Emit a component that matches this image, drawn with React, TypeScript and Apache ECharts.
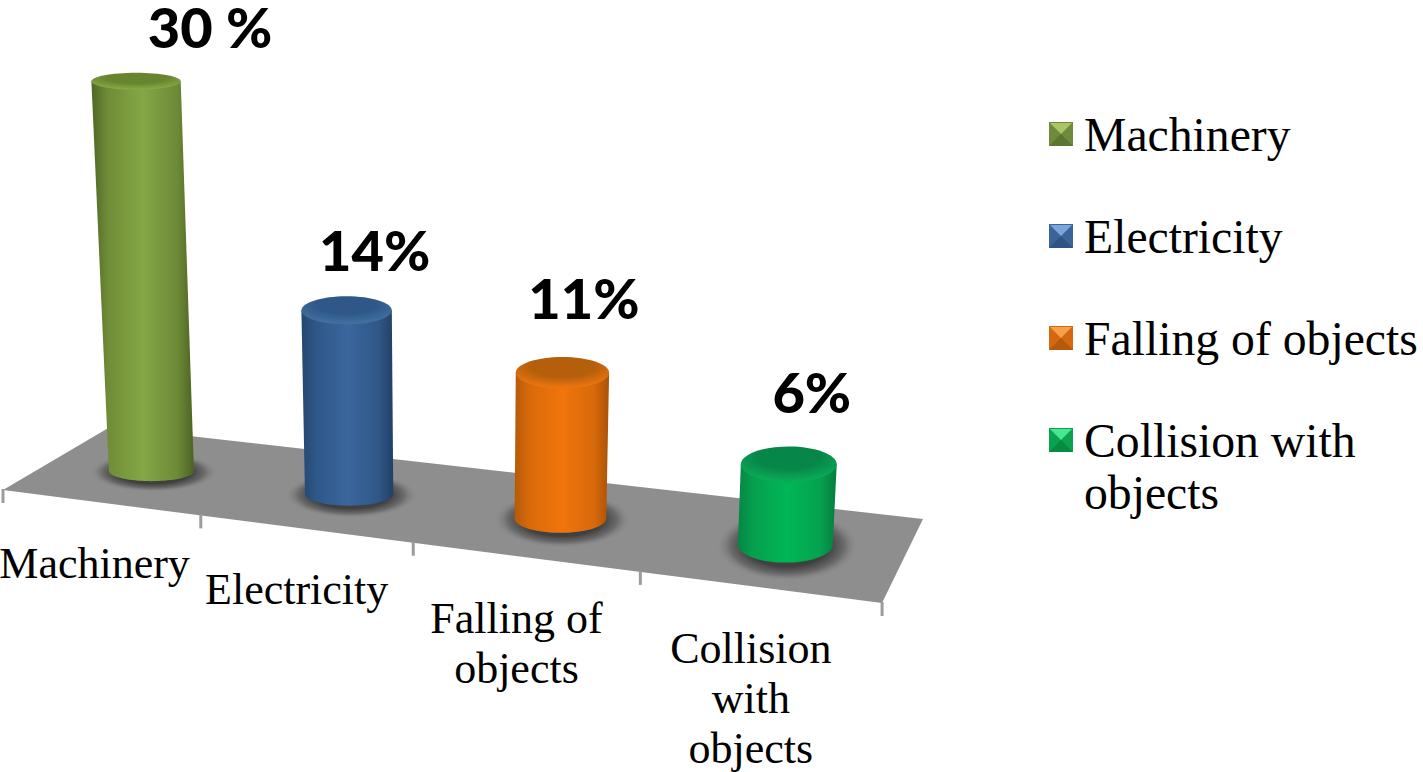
import React, { useEffect, useRef } from "react";
import * as echarts from "echarts";

const categories = ["Machinery", "Electricity", "Falling of objects", "Collision with objects"];
const values = [30, 14, 11, 6];
const valueLabels = ["30 %", "14%", "11%", "6%"];
const axisLabels = ["Machinery", "Electricity", "Falling of\nobjects", "Collision\nwith\nobjects"];
const legendLabels: Record<string, string> = { "Collision with objects": "\nCollision with\nobjects" };

const sideStops = [
  ["#4f6725", "#6f8c37", "#85a745", "#6d8a37", "#4c6223"],
  ["#234870", "#2f5788", "#3b669d", "#2f5788", "#223f66"],
  ["#b55a08", "#d96a0b", "#f0750b", "#d9690b", "#a95207"],
  ["#078544", "#05a04e", "#00b756", "#05a04e", "#067c3f"],
];
const topStops = [
  ["#67842f", "#86a846"],
  ["#2f5889", "#41709f"],
  ["#b55e0c", "#e8750f"],
  ["#07864a", "#0aab58"],
];
const iconColors = ["#6e8a3b", "#3b6598", "#d2680f", "#0ba24f"];
const iconLight = ["#a9c566", "#7aa6dc", "#f6a04a", "#45e890"];
const iconDark = ["#5c7530", "#2f5482", "#b5590b", "#078a42"];

const labelOffsets = [[74, -55], [28, -61], [21.5, -75], [23, -73]];

const FL = [3, 490], FR = [882, 603], BR = [923, 519], BL = [110, 427];
const GRID = { left: 3, width: 879, top: 0, height: 520 };
const FONT_SERIF = '"Liberation Serif", "Times New Roman", serif';

const warp = (u: number) => 0.2167 * u + 0.00833 * u * u;
const floorPoint = (u: number, v: number) => {
  const t = warp(u);
  const fx = FL[0] + (FR[0] - FL[0]) * t, fy = FL[1] + (FR[1] - FL[1]) * t;
  const bx = BL[0] + (BR[0] - BL[0]) * t, by = BL[1] + (BR[1] - BL[1]) * t;
  return [fx + (bx - fx) * v, fy + (by - fy) * v];
};
const VP_X = 455, VP_D = 7700;
const grad = (stops: string[]) =>
  new echarts.graphic.LinearGradient(0, 0, 1, 0, stops.map((color, i) => ({ offset: [0, 0.16, 0.5, 0.84, 1][i], color })));

function renderBar(i: number) {
  return (params: any, api: any) => {
    const cs = params.coordSys;
    const cx = api.coord([api.value(0), 0])[0];
    const u = ((cx - cs.x) / cs.width) * 4;
    const d = u - 0.5;
    const fp = floorPoint(u, 0.48 + 0.015 * d);
    const base = [fp[0] + 3.5 - 1.3 * d, fp[1]];
    const h = api.size([0, api.value(1)])[1] * (1 + 0.01 * d);
    const rx = 42.5 + 1.65 * d;
    const topX = base[0] + ((base[0] - VP_X) * h) / VP_D;
    const topY = base[1] - h;
    const topRx = rx * (1 + h / VP_D);
    const baseRy = 10 + d + 0.55 * d * d;
    const topRy = 6.5 + 0.0245 * topY;
    const pts: number[][] = [[topX - topRx, topY]];
    const N = 40;
    for (let k = 0; k <= N; k++) {
      const a = Math.PI - (Math.PI * k) / N;
      pts.push([base[0] + rx * Math.cos(a), base[1] + baseRy * Math.sin(a)]);
    }
    pts.push([topX + topRx, topY]);
    const off = labelOffsets[i];
    return {
      type: "group",
      children: [
        {
          type: "ellipse",
          shape: { cx: base[0] + 2, cy: base[1] + 1, rx: rx * 1.5, ry: baseRy * 2.0 },
          style: {
            fill: new echarts.graphic.RadialGradient(0.5, 0.5, 0.5, [
              { offset: 0, color: "#3a3a3a" },
              { offset: 0.58, color: "#404040" },
              { offset: 0.8, color: "#6b6b6b" },
              { offset: 1, color: "rgba(142,142,142,0)" },
            ]),
          },
        },
        { type: "polygon", shape: { points: pts }, style: { fill: grad(sideStops[i]) } },
        {
          type: "ellipse",
          shape: { cx: topX, cy: topY, rx: topRx, ry: topRy },
          style: {
            fill: new echarts.graphic.RadialGradient(0.5, 0.3, 0.66, [
              { offset: 0, color: topStops[i][0] },
              { offset: 0.5, color: topStops[i][0] },
              { offset: 1, color: topStops[i][1] },
            ]),
          },
        },
        {
          type: "text",
          style: {
            text: valueLabels[i],
            x: topX + off[0],
            y: topY + off[1],
            fill: "#000",
            font: '900 56px Lato, sans-serif',
            align: "center",
            verticalAlign: "middle",
          },
        },
      ],
    };
  };
}

function renderFloor() {
  const children: any[] = [
    { type: "polygon", shape: { points: [FL, FR, BR, BL] }, style: { fill: "#8e8e8e" } },
  ];
  for (let k = 0; k <= categories.length; k++) {
    const p = floorPoint(k, 0);
    children.push({
      type: "line",
      shape: { x1: p[0], y1: p[1] - 1, x2: p[0], y2: p[1] + 13 },
      style: { stroke: "#9c9c9c", lineWidth: 3 },
    });
  }
  axisLabels.forEach((label, k) => {
    const p = floorPoint(k + 0.5, 0);
    children.push({
      type: "text",
      style: {
        text: label,
        x: p[0] - (k === 0 ? 5.5 : 8.5),
        y: p[1] + 36,
        fill: "#000",
        font: `44px ${FONT_SERIF}`,
        lineHeight: 50,
        align: "center",
        verticalAlign: "top",
      },
    });
  });
  return { type: "group", children };
}

const LEGEND_LEFT = 1049, LEGEND_ICON_TOP = 122, LEGEND_PITCH = 102, ICON = 24;
const legendCommon = {
  orient: "vertical",
  left: LEGEND_LEFT,
  padding: 0,
  icon: "rect",
  itemWidth: ICON,
  itemHeight: ICON,
  selectedMode: false,
  formatter: (name: string) => legendLabels[name] || name,
};
const legendText = { fontFamily: FONT_SERIF, fontSize: 47.7, lineHeight: 52, color: "#000" };

export default function App() {
  const ref = useRef<HTMLDivElement>(null);
  useEffect(() => {
    if (!ref.current) return;
    const chart = echarts.init(ref.current, undefined, { renderer: "svg" });
    const bevel: any[] = [];
    categories.forEach((_, i) => {
      const y = LEGEND_ICON_TOP + i * LEGEND_PITCH;
      bevel.push({
        type: "polygon",
        z: 100,
        shape: { points: [[LEGEND_LEFT, y + ICON], [LEGEND_LEFT + ICON, y + ICON], [LEGEND_LEFT + ICON / 2, y + ICON / 2]] },
        style: { fill: iconDark[i] },
      });
      bevel.push({
        type: "polygon",
        z: 100,
        shape: { points: [[LEGEND_LEFT + 1, y + 1], [LEGEND_LEFT + ICON - 1, y + 1], [LEGEND_LEFT + ICON / 2, y + ICON / 2]] },
        style: { fill: iconLight[i] },
      });
    });
    const item = (name: string) => ({ name, itemStyle: { color: iconColors[categories.indexOf(name)] } });
    chart.setOption({
      animation: false,
      backgroundColor: "#ffffff",
      grid: { ...GRID },
      xAxis: { type: "category", data: categories, show: false },
      yAxis: { type: "value", min: 0, max: 40, show: false },
      legend: [
        { ...legendCommon, top: 103.5, itemGap: 41, textStyle: { ...legendText, padding: [0, 0, 9, 6] }, data: categories.slice(0, 3).map(item) },
        { ...legendCommon, top: 358.5, itemGap: 41, textStyle: { ...legendText, padding: [0, 0, 7, 6] }, data: categories.slice(3).map(item) },
      ],
      graphic: bevel,
      series: [
        {
          type: "custom",
          name: "floor",
          silent: true,
          coordinateSystem: "cartesian2d",
          data: [[0, 0]],
          renderItem: renderFloor,
        },
        ...categories.map((name, i) => ({
          type: "custom",
          name,
          coordinateSystem: "cartesian2d",
          itemStyle: { color: iconColors[i] },
          encode: { x: 0, y: 1 },
          data: [[i, values[i]]],
          renderItem: renderBar(i),
        })),
      ],
    });
    return () => chart.dispose();
  }, []);
  return <div ref={ref} style={{ position: "fixed", left: 0, top: 0, width: 1423, height: 772 }} />;
}
